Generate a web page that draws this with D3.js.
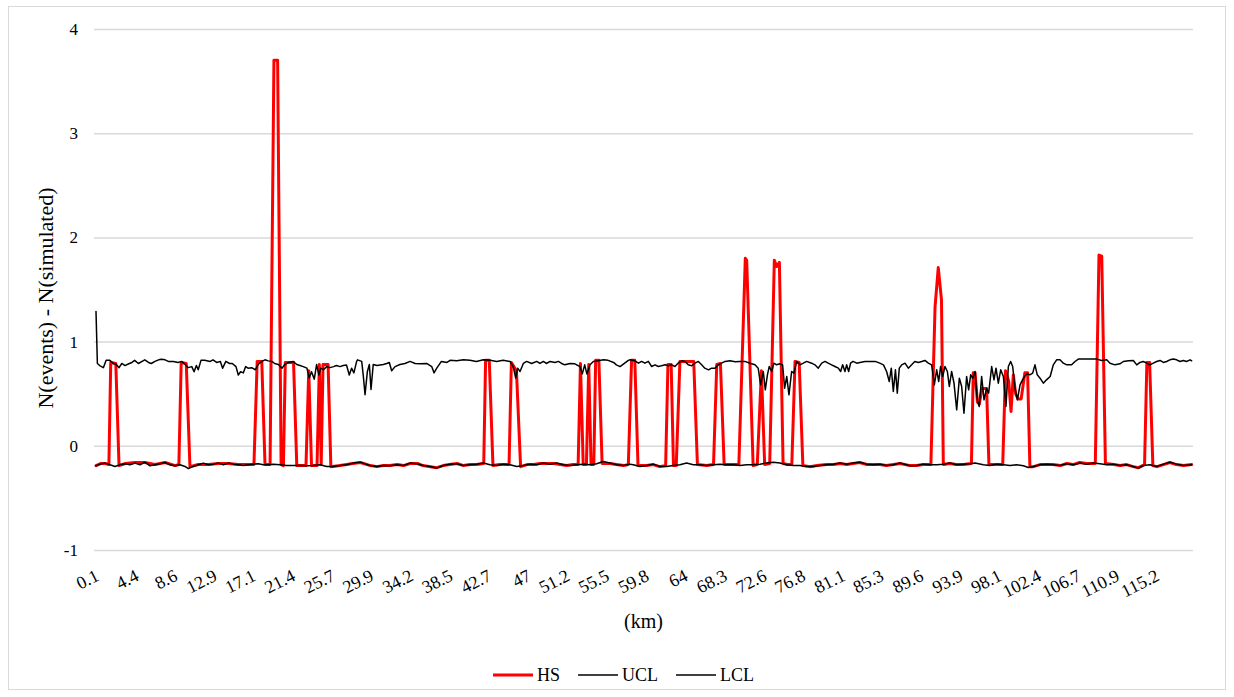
<!DOCTYPE html>
<html>
<head>
<meta charset="utf-8">
<script src="https://cdn.jsdelivr.net/npm/d3@7"></script>
<style>
  body { margin: 0; background: #fff; }
  svg { display: block; }
  text { font-family: "Liberation Serif", "Times New Roman", Times, "DejaVu Serif", serif; fill: #000; }
</style>
</head>
<body>
<svg id="chart" width="1234" height="697"></svg>
<script>
// km labels shown on the category axis
const kmLabels = [0.1, 4.4, 8.6, 12.9, 17.1, 21.4, 25.7, 29.9, 34.2, 38.5, 42.7, 47, 51.2, 55.5,
  59.8, 64, 68.3, 72.6, 76.8, 81.1, 85.3, 89.6, 93.9, 98.1, 102.4, 106.7, 110.9, 115.2];
const yTicks = [-1, 0, 1, 2, 3, 4];

// [km, N(events) - N(simulated)]
const hs = [
  [0.1,-0.19],[0.6,-0.17],[1.1,-0.17],[1.5,-0.18],[1.7,0.80],[2.25,0.79],[2.6,-0.19],[3.3,-0.17],[4.3,-0.16],
  [5.4,-0.16],[6.5,-0.18],[7.6,-0.16],[8.7,-0.19],[9.1,-0.18],[9.35,0.80],[9.9,0.79],[10.3,-0.20],[11.2,-0.18],
  [12.3,-0.18],[13.4,-0.17],[14.5,-0.17],[15.5,-0.18],[16.6,-0.18],[17.25,-0.18],[17.6,0.81],[18.1,0.81],
  [18.45,-0.18],[19.0,-0.18],[19.42,3.70],[19.82,3.70],[20.2,-0.18],[20.45,-0.19],[20.65,0.80],[21.55,0.80],
  [21.9,-0.19],[22.6,-0.19],[22.9,-0.19],[23.2,0.72],[23.5,-0.19],[24.1,-0.19],[24.35,0.78],[24.55,-0.18],
  [24.75,0.78],[25.3,0.78],[25.6,-0.20],[26.6,-0.19],[27.3,-0.18],[28.0,-0.17],[28.8,-0.16],[29.9,-0.19],
  [30.6,-0.20],[31.3,-0.19],[32.0,-0.19],[32.8,-0.18],[33.5,-0.19],[34.2,-0.17],[35.0,-0.17],[35.6,-0.19],
  [36.4,-0.20],[37.1,-0.21],[37.8,-0.19],[38.5,-0.18],[39.3,-0.17],[40.0,-0.19],[40.7,-0.18],[41.4,-0.18],
  [42.2,-0.17],[42.4,0.82],[42.8,0.82],[43.2,-0.19],[43.9,-0.18],[44.5,-0.18],[44.95,-0.18],[45.2,0.80],
  [45.75,0.72],[46.2,-0.20],[46.9,-0.18],[47.6,-0.18],[48.3,-0.17],[49.0,-0.17],[49.8,-0.17],[50.5,-0.18],
  [51.2,-0.19],[51.9,-0.18],[52.45,-0.18],[52.7,0.79],[53.0,-0.18],[53.35,-0.18],[53.6,0.78],[53.85,-0.18],
  [54.15,-0.18],[54.35,0.82],[54.7,0.82],[55.05,-0.17],[55.9,-0.17],[56.6,-0.18],[57.4,-0.19],[57.9,-0.18],
  [58.25,0.82],[58.6,0.82],[58.95,-0.19],[59.9,-0.19],[60.6,-0.18],[61.3,-0.20],[61.95,-0.19],[62.2,0.78],
  [62.55,0.78],[62.8,-0.19],[63.1,-0.19],[63.5,0.81],[65.0,0.81],[65.4,-0.18],[66.4,-0.19],[67.15,-0.18],
  [67.5,0.78],[67.9,0.79],[68.3,-0.18],[69.3,-0.18],[69.9,-0.18],[70.6,1.80],[70.75,1.78],[71.45,-0.19],
  [71.9,-0.18],[72.35,0.72],[72.7,-0.18],[73.25,-0.17],[73.75,1.78],[74.0,1.72],[74.3,1.76],[74.7,-0.17],
  [75.2,-0.18],[75.65,-0.18],[76.0,0.81],[76.45,0.80],[76.85,-0.19],[77.6,-0.20],[78.4,-0.19],[79.4,-0.18],
  [80.2,-0.18],[80.9,-0.17],[81.6,-0.18],[82.3,-0.17],[83.0,-0.16],[83.8,-0.18],[84.5,-0.18],[85.2,-0.18],
  [85.9,-0.19],[86.7,-0.18],[87.4,-0.17],[88.5,-0.19],[89.2,-0.19],[89.9,-0.18],[90.75,-0.18],[91.2,1.33],
  [91.55,1.71],[91.9,1.40],[92.1,-0.18],[92.8,-0.17],[93.5,-0.18],[94.3,-0.18],[95.15,-0.17],[95.35,0.70],
  [95.55,0.70],[95.8,0.42],[96.0,0.40],[96.3,0.55],[96.55,0.55],[96.8,0.55],[97.05,-0.18],[97.9,-0.18],
  [98.55,-0.18],[98.85,0.72],[99.2,0.62],[99.45,0.33],[99.7,0.68],[99.95,0.50],[100.2,0.45],[100.55,0.45],
  [100.95,0.70],[101.25,0.70],[101.5,-0.20],[101.9,-0.20],[102.6,-0.18],[103.3,-0.18],[104.0,-0.18],
  [104.8,-0.19],[105.5,-0.17],[106.2,-0.18],[106.9,-0.16],[107.7,-0.17],[108.6,-0.17],[109.0,1.83],
  [109.3,1.82],[109.7,-0.17],[110.6,-0.18],[111.3,-0.19],[112.0,-0.18],[112.7,-0.20],[113.3,-0.21],
  [113.95,-0.18],[114.2,0.80],[114.5,0.80],[114.85,-0.19],[115.3,-0.20],[116.0,-0.18],[116.7,-0.16],
  [117.4,-0.18],[118.2,-0.19],[119.06,-0.18]
];

const ucl = [
  [0.1,1.29],[0.25,0.79],[0.5,0.77],[0.9,0.75],[1.2,0.82],[1.6,0.82],[2.0,0.79],[2.3,0.78],[2.6,0.75],
  [2.9,0.79],[3.25,0.77],[3.6,0.785],[4.0,0.80],[4.3,0.82],[4.7,0.79],[5.1,0.81],[5.4,0.825],[5.8,0.80],
  [6.1,0.79],[6.5,0.81],[6.9,0.825],[7.2,0.83],[7.6,0.825],[7.95,0.81],[8.5,0.81],[9.0,0.80],[9.4,0.81],
  [9.8,0.78],[10.1,0.75],[10.5,0.76],[10.75,0.71],[11.0,0.77],[11.2,0.73],[11.5,0.82],[11.9,0.82],
  [12.5,0.81],[12.8,0.825],[13.2,0.80],[13.6,0.81],[13.85,0.745],[14.2,0.81],[14.6,0.79],[14.9,0.79],
  [15.3,0.76],[15.55,0.68],[15.8,0.71],[16.1,0.70],[16.35,0.76],[16.6,0.745],[17.0,0.75],[17.4,0.73],
  [17.7,0.78],[18.1,0.81],[18.45,0.825],[18.8,0.815],[19.2,0.81],[19.5,0.79],[19.9,0.78],[20.3,0.745],
  [20.6,0.78],[21.0,0.80],[21.5,0.81],[21.9,0.78],[22.25,0.77],[22.6,0.76],[23.0,0.745],[23.25,0.65],
  [23.5,0.71],[23.8,0.64],[24.05,0.78],[24.3,0.68],[24.5,0.745],[24.8,0.73],[25.15,0.76],[25.5,0.75],
  [25.9,0.76],[26.2,0.77],[26.6,0.76],[26.95,0.77],[27.3,0.775],[27.6,0.68],[27.85,0.745],[28.1,0.70],
  [28.4,0.81],[28.5,0.825],[28.95,0.81],[29.13,0.665],[29.31,0.49],[29.56,0.71],[29.78,0.78],[29.96,0.54],
  [30.2,0.78],[30.6,0.77],[31.3,0.78],[31.66,0.79],[31.95,0.80],[32.2,0.72],[32.57,0.76],[33.1,0.78],
  [33.65,0.79],[34.2,0.81],[34.75,0.79],[35.3,0.787],[36.0,0.79],[36.55,0.76],[36.8,0.70],[37.1,0.745],
  [37.6,0.81],[38.2,0.80],[38.55,0.82],[39.26,0.816],[40.0,0.825],[40.7,0.82],[41.4,0.81],[42.16,0.825],
  [42.9,0.82],[43.6,0.81],[44.3,0.82],[45.05,0.81],[45.4,0.76],[45.67,0.65],[45.88,0.745],[46.14,0.713],
  [46.5,0.79],[46.86,0.81],[47.4,0.79],[47.95,0.81],[48.3,0.79],[48.67,0.81],[49.0,0.79],[49.4,0.81],
  [49.94,0.80],[50.3,0.81],[50.66,0.79],[51.0,0.777],[51.57,0.79],[52.1,0.787],[52.65,0.76],[52.9,0.69],
  [53.16,0.777],[53.4,0.69],[53.74,0.777],[54.1,0.81],[54.64,0.816],[55.2,0.825],[55.7,0.82],[56.3,0.80],
  [56.6,0.777],[57.0,0.76],[57.36,0.784],[57.9,0.82],[58.1,0.825],[58.6,0.816],[59.0,0.793],[59.34,0.81],
  [59.7,0.793],[60.07,0.81],[60.43,0.761],[60.8,0.777],[61.15,0.761],[61.5,0.768],[61.9,0.777],[62.24,0.768],
  [62.6,0.777],[62.96,0.761],[63.3,0.793],[63.7,0.816],[64.05,0.81],[64.4,0.777],[64.77,0.768],[65.13,0.793],
  [65.5,0.81],[65.86,0.777],[66.2,0.745],[66.6,0.729],[66.94,0.745],[67.3,0.745],[67.67,0.777],[68.03,0.793],
  [68.4,0.81],[68.93,0.816],[69.5,0.806],[70.0,0.81],[70.56,0.81],[71.1,0.793],[71.65,0.777],[72.0,0.745],
  [72.26,0.585],[72.55,0.713],[72.77,0.537],[73.0,0.681],[73.2,0.761],[73.46,0.713],[73.7,0.793],[74.0,0.777],
  [74.36,0.787],[74.65,0.777],[74.87,0.553],[75.1,0.665],[75.34,0.489],[75.63,0.713],[75.88,0.697],
  [76.17,0.81],[76.53,0.777],[76.9,0.793],[77.26,0.81],[77.8,0.793],[78.16,0.777],[78.52,0.745],[78.9,0.793],
  [79.25,0.81],[79.6,0.793],[79.97,0.777],[80.33,0.761],[80.7,0.745],[80.95,0.713],[81.17,0.777],
  [81.42,0.713],[81.6,0.777],[81.82,0.713],[82.03,0.793],[82.3,0.81],[82.7,0.793],[83.05,0.80],[83.6,0.81],
  [84.13,0.81],[84.7,0.81],[85.2,0.793],[85.6,0.777],[85.94,0.713],[86.23,0.617],[86.45,0.745],[86.67,0.521],
  [86.9,0.729],[87.1,0.505],[87.32,0.745],[87.58,0.777],[87.94,0.793],[88.3,0.745],[88.66,0.777],[89.0,0.809],
  [89.4,0.80],[89.75,0.809],[90.1,0.819],[90.47,0.793],[90.83,0.777],[91.12,0.585],[91.38,0.729],[91.6,0.617],
  [91.8,0.761],[92.03,0.665],[92.28,0.761],[92.54,0.713],[92.75,0.569],[93.0,0.713],[93.26,0.601],
  [93.55,0.345],[93.84,0.649],[94.09,0.569],[94.34,0.313],[94.63,0.665],[94.85,0.537],[95.07,0.681],
  [95.29,0.649],[95.54,0.713],[95.79,0.441],[96.0,0.377],[96.26,0.665],[96.52,0.441],[96.8,0.553],
  [97.02,0.505],[97.35,0.761],[97.6,0.633],[97.82,0.745],[98.07,0.601],[98.33,0.729],[98.62,0.665],
  [98.9,0.377],[99.16,0.761],[99.41,0.809],[99.63,0.761],[99.88,0.553],[100.14,0.441],[100.43,0.585],
  [100.7,0.633],[100.97,0.672],[101.22,0.691],[101.5,0.681],[101.8,0.697],[102.05,0.777],[102.3,0.681],
  [102.6,0.649],[102.96,0.601],[103.3,0.633],[103.7,0.665],[104.04,0.777],[104.4,0.825],[104.77,0.825],
  [105.13,0.793],[105.5,0.777],[106.03,0.777],[106.4,0.809],[106.76,0.832],[107.3,0.832],[108.0,0.832],
  [108.75,0.832],[109.3,0.819],[109.84,0.825],[110.2,0.793],[110.74,0.777],[111.28,0.787],[111.64,0.809],
  [112.2,0.816],[112.73,0.819],[113.1,0.777],[113.45,0.80],[113.8,0.809],[114.2,0.793],[114.54,0.777],
  [114.9,0.793],[115.26,0.809],[115.63,0.819],[116.0,0.80],[116.35,0.809],[116.7,0.825],[117.07,0.832],
  [117.43,0.825],[117.8,0.809],[118.16,0.819],[118.5,0.809],[118.9,0.825],[119.06,0.816]
];

const lcl = [
  [0.1,-0.192],[0.53,-0.176],[1.08,-0.166],[1.62,-0.182],[2.16,-0.198],[2.71,-0.182],[3.25,-0.173],
  [3.79,-0.182],[4.33,-0.166],[4.88,-0.182],[5.42,-0.157],[5.96,-0.192],[6.51,-0.182],[7.05,-0.173],
  [7.59,-0.160],[8.13,-0.182],[8.68,-0.192],[9.22,-0.182],[9.76,-0.198],[10.13,-0.218],[10.67,-0.198],
  [11.21,-0.182],[11.75,-0.166],[12.3,-0.182],[12.84,-0.176],[13.38,-0.166],[13.93,-0.182],[14.47,-0.166],
  [15.01,-0.176],[15.55,-0.182],[16.1,-0.189],[16.64,-0.182],[17.18,-0.176],[17.73,-0.173],[18.27,-0.182],
  [18.81,-0.182],[19.35,-0.176],[20.08,-0.182],[20.8,-0.189],[21.53,-0.189],[22.25,-0.189],[22.97,-0.192],
  [23.7,-0.189],[24.42,-0.182],[25.15,-0.198],[25.87,-0.198],[26.59,-0.189],[27.32,-0.182],[28.04,-0.166],
  [28.76,-0.157],[29.85,-0.189],[30.58,-0.198],[31.3,-0.189],[32.02,-0.192],[32.75,-0.182],[33.47,-0.189],
  [34.2,-0.166],[34.92,-0.173],[35.64,-0.189],[36.37,-0.198],[37.09,-0.214],[37.81,-0.189],[38.54,-0.176],
  [39.26,-0.173],[39.99,-0.189],[40.71,-0.182],[41.43,-0.176],[42.16,-0.166],[42.88,-0.182],[43.6,-0.189],
  [44.33,-0.176],[45.05,-0.182],[45.78,-0.198],[46.5,-0.189],[47.22,-0.176],[47.95,-0.182],[48.67,-0.166],
  [49.4,-0.176],[50.12,-0.166],[50.84,-0.182],[51.57,-0.189],[52.29,-0.182],[53.01,-0.176],[53.74,-0.182],
  [54.46,-0.173],[55.19,-0.150],[55.91,-0.166],[56.63,-0.182],[57.36,-0.189],[58.08,-0.176],[58.44,-0.182],
  [59.16,-0.198],[59.89,-0.189],[60.61,-0.176],[61.33,-0.198],[62.06,-0.198],[62.78,-0.189],[63.5,-0.182],
  [64.23,-0.166],[64.95,-0.182],[65.68,-0.182],[66.4,-0.189],[67.12,-0.182],[67.85,-0.176],[68.57,-0.182],
  [69.3,-0.182],[70.02,-0.189],[70.74,-0.182],[71.47,-0.182],[72.19,-0.176],[72.91,-0.166],[73.64,-0.157],
  [74.36,-0.166],[75.09,-0.182],[75.81,-0.189],[76.53,-0.189],[77.26,-0.198],[77.98,-0.198],[78.7,-0.189],
  [79.43,-0.182],[80.15,-0.176],[80.88,-0.166],[81.6,-0.176],[82.32,-0.166],[83.05,-0.157],[83.77,-0.176],
  [84.5,-0.182],[85.22,-0.176],[85.94,-0.189],[86.67,-0.182],[87.39,-0.166],[88.48,-0.192],[89.2,-0.189],
  [89.93,-0.176],[90.65,-0.182],[91.38,-0.182],[92.1,-0.176],[92.82,-0.166],[93.55,-0.182],[94.27,-0.176],
  [94.99,-0.173],[95.54,-0.166],[96.44,-0.182],[97.17,-0.189],[97.89,-0.176],[98.62,-0.182],[99.34,-0.189],
  [100.06,-0.182],[100.79,-0.192],[101.33,-0.208],[101.87,-0.198],[102.6,-0.182],[103.32,-0.176],
  [104.04,-0.182],[104.77,-0.189],[105.49,-0.173],[106.22,-0.182],[106.94,-0.166],[107.66,-0.176],
  [108.39,-0.166],[109.11,-0.173],[109.84,-0.182],[110.56,-0.176],[111.28,-0.189],[112.01,-0.182],
  [112.73,-0.198],[113.27,-0.214],[113.82,-0.189],[114.54,-0.182],[115.26,-0.198],[115.99,-0.176],
  [116.71,-0.157],[117.43,-0.176],[118.16,-0.189],[119.06,-0.182]
];

const series = [
  { name: "HS", data: hs, color: "#ff0000", width: 3 },
  { name: "UCL", data: ucl, color: "#000000", width: 1.5 },
  { name: "LCL", data: lcl, color: "#000000", width: 1.5 }
];

const serif = '"Liberation Serif", "Times New Roman", Times, "DejaVu Serif", serif';

// chart dimensions
const plotLeft = 94;
const plotRight = 1193;
const plotTop = 29;
const plotBottom = 550;

const svg = d3.select("#chart");

// outer chart border
svg.append("rect")
  .attr("x", 8.5).attr("y", 6.5)
  .attr("width", 1217).attr("height", 683)
  .attr("fill", "#fff")
  .attr("stroke", "#d9d9d9");

const x = d3.scaleLinear([0.1, 119.1], [96, 1192]);
const y = d3.scaleLinear([-1, 4], [plotBottom, plotTop]);

// y axis with gridlines
svg.append("g")
  .attr("transform", `translate(${plotLeft},0)`)
  .attr("font-family", serif)
  .call(d3.axisLeft(y).tickValues(yTicks).tickSize(-(plotRight - plotLeft)).tickPadding(16)
    .tickFormat((d) => d))
  .call((g) => g.select(".domain").remove())
  .call((g) => g.selectAll(".tick line").attr("stroke", "#d9d9d9").attr("stroke-width", 1.5))
  .call((g) => g.selectAll(".tick text").attr("font-size", 17));

// x axis, labels only
svg.append("g")
  .attr("transform", `translate(0,${plotBottom})`)
  .attr("font-family", serif)
  .call(d3.axisBottom(x).tickValues(kmLabels).tickSize(0).tickFormat((d) => d))
  .call((g) => g.select(".domain").remove())
  .call((g) => g.selectAll(".tick text")
    .attr("x", 0).attr("y", 0).attr("dy", "0.72em")
    .attr("text-anchor", "end")
    .attr("font-size", 18)
    .attr("transform", "translate(-2,18) rotate(-27)"));

// lines
const line = d3.line()
  .x((d) => x(d[0]))
  .y((d) => y(d[1]));

svg.append("g")
  .attr("fill", "none")
  .attr("stroke-linejoin", "round")
  .attr("stroke-linecap", "round")
  .selectAll("path")
  .data(series)
  .join("path")
  .attr("stroke", (d) => d.color)
  .attr("stroke-width", (d) => d.width)
  .attr("d", (d) => line(d.data));

// axis titles
svg.append("text")
  .attr("x", (plotLeft + plotRight) / 2)
  .attr("y", 628)
  .attr("text-anchor", "middle")
  .attr("font-size", 20)
  .text("(km)");

svg.append("text")
  .attr("transform", `translate(53,298) rotate(-90)`)
  .attr("text-anchor", "middle")
  .attr("font-size", 22)
  .text("N(events) - N(simulated)");

// legend
const legend = svg.append("g").attr("transform", "translate(493,675)");
let lx = 0;
series.forEach((s) => {
  const item = legend.append("g").attr("transform", `translate(${lx},0)`);
  item.append("line")
    .attr("x1", 0).attr("x2", 40)
    .attr("stroke", s.color)
    .attr("stroke-width", s.width);
  const t = item.append("text")
    .attr("x", 44).attr("dy", "0.35em")
    .attr("font-size", 18)
    .text(s.name);
  lx += 44 + t.node().getComputedTextLength() + 18;
});
</script>
</body>
</html>
